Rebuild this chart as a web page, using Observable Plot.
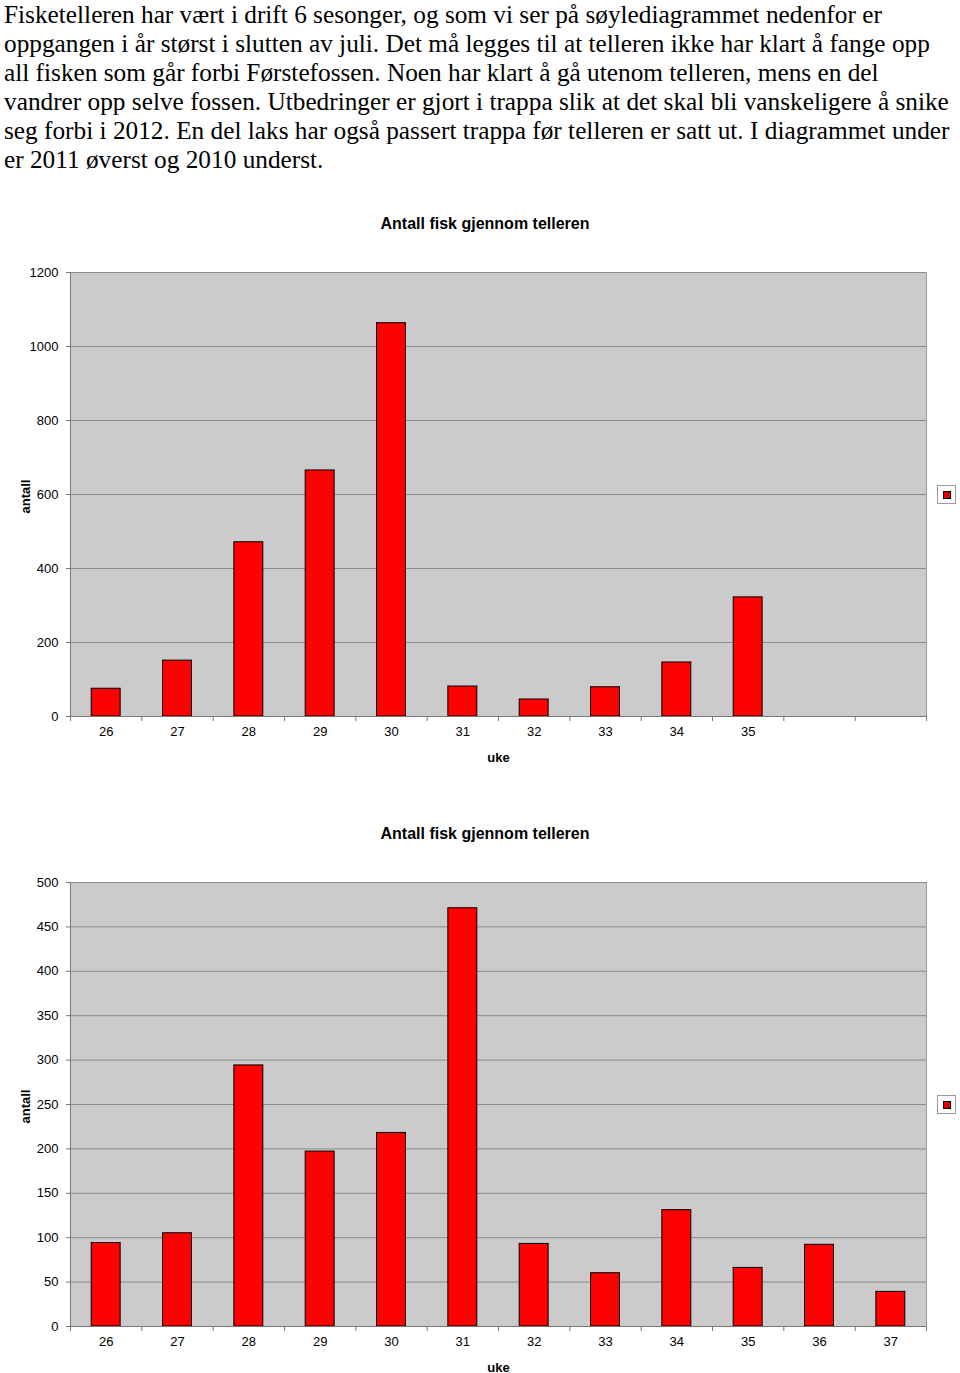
<!DOCTYPE html>
<html>
<head>
<meta charset="utf-8">
<script src="https://cdn.jsdelivr.net/npm/d3@7"></script>
<script src="https://cdn.jsdelivr.net/npm/@observablehq/plot@0.6"></script>
<style>
  html, body { margin: 0; padding: 0; background: #fff; }
  body { position: relative; width: 960px; height: 1373px; overflow: hidden; }
  #para { position: absolute; left: 4px; top: 0px; font-family: "Liberation Serif", "Times New Roman", serif; font-size: 25.3px; line-height: 29px; white-space: nowrap; color: #000; }
  .title { position: absolute; width: 400px; left: 285px; text-align: center; font-family: "Liberation Sans", Arial, sans-serif; font-weight: bold; font-size: 16px; color: #000; }
  .chart { position: absolute; left: 0; }
  .legend { position: absolute; left: 937px; width: 19px; height: 19px; border: 1px solid #9a9a9a; background: #fff; box-sizing: border-box; }
  .legend span { position: absolute; left: 5px; top: 5px; width: 8px; height: 8px; background: #e00000; border: 1px solid #000; box-sizing: border-box; }
</style>
</head>
<body>
<div id="para">Fisketelleren har vært i drift 6 sesonger, og som vi ser på søylediagrammet nedenfor er<br>oppgangen i år størst i slutten av juli. Det må legges til at telleren ikke har klart å fange opp<br>all fisken som går forbi Førstefossen. Noen har klart å gå utenom telleren, mens en del<br>vandrer opp selve fossen. Utbedringer er gjort i trappa slik at det skal bli vanskeligere å snike<br>seg forbi i 2012. En del laks har også passert trappa før telleren er satt ut. I diagrammet under<br>er 2011 øverst og 2010 underst.</div>
<div class="title" style="top:215px">Antall fisk gjennom telleren</div>
<div class="title" style="top:825px">Antall fisk gjennom telleren</div>
<div id="c1" class="chart" style="top:200px"></div>
<div id="c2" class="chart" style="top:810px"></div>
<div class="legend" style="top:485px"><span></span></div>
<div class="legend" style="top:1095px"><span></span></div>
<script>
// Data
const allWeeks = [26, 27, 28, 29, 30, 31, 32, 33, 34, 35, 36, 37];
const weeks2011 = [26, 27, 28, 29, 30, 31, 32, 33, 34, 35];
const counts2011 = [75, 151, 471, 665, 1063, 81, 46, 79, 146, 322];
const weeks2010 = [26, 27, 28, 29, 30, 31, 32, 33, 34, 35, 36, 37];
const counts2010 = [94, 105, 294, 197, 218, 471, 93, 60, 131, 66, 92, 39];
const yTicks2011 = [0, 200, 400, 600, 800, 1000, 1200];
const yTicks2010 = [0, 50, 100, 150, 200, 250, 300, 350, 400, 450, 500];

const font = '"Liberation Sans", Arial, sans-serif';
const halfBar = 0.203;
const boundaries = allWeeks.map(w => w - 0.5).concat([allWeeks[allWeeks.length - 1] + 0.5]);
const xDomain = [boundaries[0], boundaries[boundaries.length - 1]];

function chart(weeks, counts, yTicks, height, marginBottom) {
  const data = weeks.map((w, i) => ({week: w, count: counts[i]}));
  const yMax = yTicks[yTicks.length - 1];
  return Plot.plot({
    width: 960,
    height,
    marginTop: 72,
    marginBottom,
    marginLeft: 70,
    marginRight: 34,
    style: {fontFamily: font, fontSize: "13px", color: "#000", background: "transparent", overflow: "visible"},
    x: {type: "linear", domain: xDomain},
    y: {domain: [0, yMax]},
    marks: [
      Plot.frame({fill: "#cbcbcb", stroke: "#9a9a9a"}),
      Plot.gridY(yTicks, {stroke: "#8c8c8c", strokeOpacity: 1}),
      Plot.rectY(data, {x1: d => d.week - halfBar, x2: d => d.week + halfBar, y1: 0, y2: "count", fill: "#ff0000", stroke: "#000", strokeWidth: 1}),
      Plot.ruleY([0], {stroke: "#777"}),
      Plot.ruleX([xDomain[0]], {stroke: "#777"}),
      Plot.axisY({ticks: yTicks, tickSize: 4, tickPadding: 8, label: null, stroke: "#777", tickFormat: d => String(d)}),
      Plot.axisX({ticks: boundaries, tickFormat: () => "", tickSize: 5, label: null, stroke: "#777"}),
      Plot.axisX({ticks: weeks, tickSize: 0, tickPadding: 10, label: null, tickFormat: d => String(d)}),
      Plot.text(["uke"], {frameAnchor: "bottom", dy: 41, lineAnchor: "middle", fontWeight: "bold", fontSize: 13}),
      Plot.text(["antall"], {frameAnchor: "left", dx: -45, dy: 2, rotate: -90, textAnchor: "middle", lineAnchor: "middle", fontWeight: "bold", fontSize: 13})
    ]
  });
}

document.getElementById("c1").appendChild(chart(weeks2011, counts2011, yTicks2011, 580, 64));
document.getElementById("c2").appendChild(chart(weeks2010, counts2010, yTicks2010, 563, 47));
</script>
</body>
</html>
